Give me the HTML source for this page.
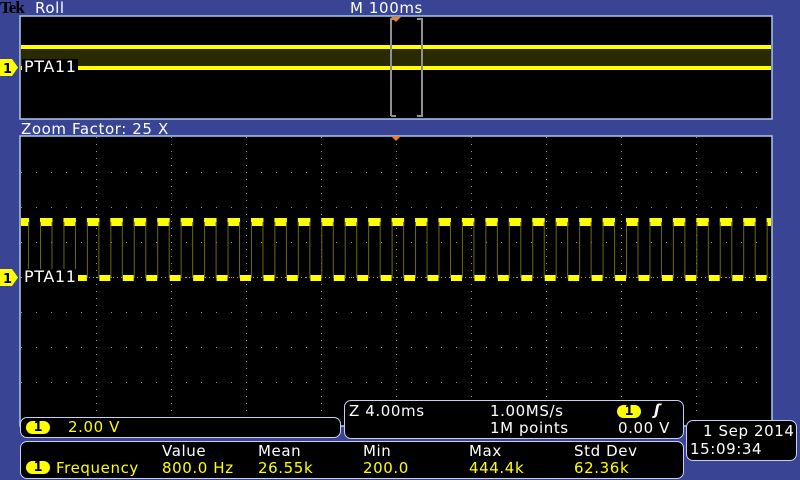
<!DOCTYPE html>
<html><head><meta charset="utf-8"><style>
body{margin:0;width:800px;height:480px;background:#3a4494;overflow:hidden;position:relative;font-family:"DejaVu Sans","Liberation Sans",sans-serif;}
.t{position:absolute;color:#fff;font-size:15px;line-height:16px;white-space:nowrap;letter-spacing:0.6px}
.y{color:#ffff00}
.box{position:absolute;background:#000;border:1px solid #c8d0f0;border-radius:7px;box-sizing:border-box}
.badge{position:absolute;background:#ffff00;color:#000;border-radius:8px;font-size:13px;line-height:13px;text-align:center;font-weight:bold}
</style></head><body>
<div class="t" style="left:0;top:0;font-family:'Liberation Serif',serif;font-weight:bold;color:#000;font-size:17px;letter-spacing:-1px">Tek</div>
<div class="t" style="left:35px;top:0">Roll</div>
<div class="t" style="left:350px;top:0">M 100ms</div>
<div class="t" style="left:21px;top:121px">Zoom Factor: 25 X</div>
<svg width="800" height="480" style="position:absolute;left:0;top:0">
<rect x="20" y="16" width="752" height="103" fill="#000" stroke="#a8c8f0" stroke-width="1.5"/>
<rect x="21" y="48" width="750" height="20" fill="#2a2a00"/>
<rect x="21" y="45" width="750" height="4" fill="#ffff00"/>
<rect x="21" y="66" width="750" height="4" fill="#ffff00"/>
<path d="M391 116 V19 H396 M417 19 H422 V116 H417 M391 116 H396" stroke="#909090" stroke-width="2" fill="none"/>
<path d="M391 17 L401 17 L396 22 Z" fill="#f08020"/>
<rect x="20" y="136" width="752" height="290" fill="#000" stroke="#a8c8f0" stroke-width="1.5"/>
<g stroke="#a89870" stroke-width="1" fill="none">
<g stroke-dasharray="1 14">
<path d="M21 172.5H771M21 207.5H771M21 242.5H771M21 277.5H771M21 312.5H771M21 347.5H771M21 382.5H771"/>
</g>
<g stroke-dasharray="1 6">
<path d="M96.5 137V416M171.5 137V416M246.5 137V416M321.5 137V416M396.5 137V416M471.5 137V416M546.5 137V416M621.5 137V416M696.5 137V416"/>
</g>
<path d="M21 277.5H771" stroke-dasharray="1 3"/>
</g>
<path d="M391 136 L401 136 L396 141 Z" fill="#f08020"/>
</svg>
<svg width="800" height="480" style="position:absolute;left:0;top:0" id="wave"></svg>
<script>
(function(){var s='';var p=23.44;
for(var k=-1;k<33;k++){var r=40+p*k,f=r+12.5;var r2=r+p;
if(f<21)continue;
var a=Math.max(21,r),b=Math.min(771,f);
if(b>a){s+='<rect x="'+a+'" y="218" width="'+(b-a)+'" height="8" fill="#ffff00"/>';}
var c=Math.max(21,f),d=Math.min(771,r2);
if(d>c){s+='<rect x="'+c+'" y="275" width="'+(d-c)+'" height="6" fill="#ffff00"/>';}
if(r>21&&r<771)s+='<line x1="'+(r+0.5)+'" y1="222" x2="'+(r+0.5)+'" y2="278" stroke="#6a6a10"/>';
if(f>21&&f<771)s+='<line x1="'+(f-0.5)+'" y1="222" x2="'+(f-0.5)+'" y2="278" stroke="#6a6a10"/>';
}
document.getElementById('wave').innerHTML=s;})();
</script>
<svg width="20" height="480" style="position:absolute;left:0;top:0">
<path d="M0 59 H12 L18 67.5 L12 76 H0 Z" fill="#ffff00"/>
<path d="M0 269 H12 L18 277.5 L12 286 H0 Z" fill="#ffff00"/>
<text x="3" y="73" font-family="DejaVu Sans" font-weight="bold" font-size="13" fill="#000">1</text>
<text x="3" y="283" font-family="DejaVu Sans" font-weight="bold" font-size="13" fill="#000">1</text>
</svg>
<div class="t" style="left:22px;top:59px;background:#000;padding:0 2px;font-size:16px">PTA11</div>
<div class="t" style="left:22px;top:269px;background:#000;padding:0 2px;font-size:16px">PTA11</div>
<div class="box" style="left:20px;top:417px;width:321px;height:21px"></div>
<div class="badge" style="left:26px;top:421px;width:24px;height:13px">1</div>
<div class="t y" style="left:68px;top:419px">2.00 V</div>
<div class="box" style="left:20px;top:441px;width:664px;height:38px"></div>
<div class="badge" style="left:26px;top:461px;width:24px;height:13px">1</div>
<div class="t y" style="left:56px;top:460px">Frequency</div>
<div class="t" style="left:162px;top:443px">Value</div><div class="t y" style="left:162px;top:460px">800.0 Hz</div>
<div class="t" style="left:258px;top:443px">Mean</div><div class="t y" style="left:258px;top:460px">26.55k</div>
<div class="t" style="left:363px;top:443px">Min</div><div class="t y" style="left:363px;top:460px">200.0</div>
<div class="t" style="left:469px;top:443px">Max</div><div class="t y" style="left:469px;top:460px">444.4k</div>
<div class="t" style="left:574px;top:443px">Std Dev</div><div class="t y" style="left:574px;top:460px">62.36k</div>
<div class="box" style="left:344px;top:400px;width:340px;height:39px"></div>
<div class="t" style="left:349px;top:403px">Z 4.00ms</div>
<div class="t" style="left:490px;top:403px">1.00MS/s</div>
<div class="t" style="left:490px;top:420px">1M points</div>
<div class="badge" style="left:617px;top:405px;width:24px;height:13px">1</div>
<div class="t" style="left:654px;top:402px;font-style:italic;font-weight:bold">ʃ</div>
<div class="t" style="left:618px;top:420px">0.00 V</div>
<div class="box" style="left:686px;top:420px;width:111px;height:41px"></div>
<div class="t" style="left:703px;top:423px">1 Sep 2014</div>
<div class="t" style="left:690px;top:441px">15:09:34</div>
</body></html>
